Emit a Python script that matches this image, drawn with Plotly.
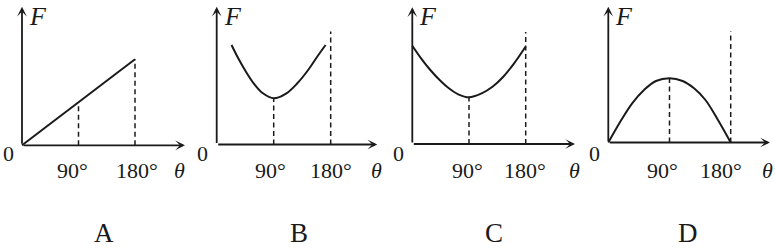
import plotly.graph_objects as go

W, H = 775, 250

# ---------------- data ----------------
panel_names = ["A", "B", "C", "D"]
tick_thetas = [90, 180]
tick_labels = ["90°", "180°"]

# A: straight line through the origin
A_theta = [0, 180]
A_F = [0, 8.6]

# B: U-shaped curve, starts after 0 and ends before 180
B_theta = [23.4, 34.0, 46.2, 58.4, 73.0, 90, 110.1, 127.3, 144.4, 158.7, 171.9]
B_F = [9.95, 8.62, 7.28, 6.12, 5.12, 4.62, 5.12, 6.12, 7.45, 8.78, 9.95]

# C: U-shaped curve from 0 to 180
C_theta = [0, 13.9, 28.6, 43.4, 58.1, 72.9, 90, 110.1, 127.3, 144.4, 161.6, 180]
C_F = [9.83, 8.57, 7.40, 6.40, 5.57, 4.97, 4.67, 5.07, 5.73, 6.73, 8.07, 9.75]

# D: arch from 0 to 180
D_theta = [0, 17.6, 35.1, 52.5, 70.1, 90, 109.3, 126.1, 142.9, 159.8, 180]
D_F = [0, 2.08, 3.92, 5.25, 6.15, 6.42, 6.15, 5.42, 4.25, 2.42, 0]

# heights of the dashed guides at 90 and 180 degrees
A_guide_F = [4.3, 8.6]
B_guide_F = [4.62, 11.3]
C_guide_F = [4.67, 11.2]
D_guide_F = [6.42, 11.1]

# axis extents (arrow tips) in data units
theta_max = [259.6, 253.6, 258.3, 237.8]
F_max = [13.86, 13.78, 13.67, 13.58]

curves_theta = [A_theta, B_theta, C_theta, D_theta]
curves_F = [A_F, B_F, C_F, D_F]
guides_F = [A_guide_F, B_guide_F, C_guide_F, D_guide_F]

# ---------------- layout / style ----------------
origin_px = [(22, 145.3), (216.7, 144.5), (412.3, 144.0), (608.3, 142.5)]
px_per_deg = [0.6278, 0.6333, 0.630, 0.680]
px_per_F = 10.0
pad = 4.0
line_shapes = ["linear", "spline", "spline", "spline"]
tick_xshift = [[-6, 2], [-3, 0], [-2, -1], [-7, -10]]
theta_xshift = [-5, -1, -1, -3]
letter_px = [104, 299, 494, 688]

INK = "#1a1a1a"
FONT = "'Liberation Serif', 'Times New Roman', 'DejaVu Serif', serif"

fig = go.Figure()
annotations = []


def clamp(v):
    return max(0.0, min(1.0, v))


for i in range(4):
    s = "" if i == 0 else str(i + 1)
    xa, ya = "x" + s, "y" + s
    ox, oy = origin_px[i]
    sx = px_per_deg[i]

    # axes
    x_lo, x_hi = -pad / sx, theta_max[i] + pad / sx
    y_lo, y_hi = -pad / px_per_F, F_max[i] + pad / px_per_F
    fig.layout["xaxis" + s] = dict(
        domain=[clamp((ox + x_lo * sx) / W), clamp((ox + x_hi * sx) / W)],
        range=[x_lo, x_hi], visible=False, fixedrange=True, anchor=ya,
    )
    fig.layout["yaxis" + s] = dict(
        domain=[clamp(1 - (oy - y_lo * px_per_F) / H), clamp(1 - (oy - y_hi * px_per_F) / H)],
        range=[y_lo, y_hi], visible=False, fixedrange=True, anchor=xa,
    )

    # dashed guides
    gx, gy = [], []
    for t, f in zip(tick_thetas, guides_F[i]):
        gx += [t, t, None]
        gy += [0, f, None]
    fig.add_trace(go.Scatter(
        x=gx, y=gy, xaxis=xa, yaxis=ya, mode="lines",
        line=dict(color=INK, width=1.5, dash="5px,3.5px"),
        hoverinfo="skip", showlegend=False,
    ))

    # curve
    fig.add_trace(go.Scatter(
        x=curves_theta[i], y=curves_F[i], xaxis=xa, yaxis=ya, mode="lines",
        line=dict(color=INK, width=2, shape=line_shapes[i], smoothing=1.0),
        hoverinfo="skip", showlegend=False,
    ))

    arrow = dict(showarrow=True, text="", arrowhead=3, arrowsize=0.9, arrowwidth=1.8,
                 arrowcolor=INK, standoff=0, xref=xa, yref=ya, axref=xa, ayref=ya)
    # theta axis
    annotations.append(dict(arrow, x=theta_max[i], y=0, ax=0, ay=0))
    # F axis
    annotations.append(dict(arrow, x=0, y=F_max[i], ax=0, ay=0))

    # tick labels
    for k, (t, lab) in enumerate(zip(tick_thetas, tick_labels)):
        annotations.append(dict(
            x=t, y=1 - 170 / H, xref=xa, yref="paper", text=lab, showarrow=False,
            xanchor="center", yanchor="middle", xshift=tick_xshift[i][k],
            font=dict(family=FONT, size=22, color=INK),
        ))
    # theta label
    annotations.append(dict(
        x=theta_max[i], y=1 - 170 / H, xref=xa, yref="paper", text="<i>θ</i>",
        showarrow=False, xanchor="center", yanchor="middle", xshift=theta_xshift[i],
        font=dict(family=FONT, size=22, color=INK),
    ))
    # F label
    annotations.append(dict(
        x=0, y=1 - 16 / H, xref=xa, yref="paper", text="<i>F</i>",
        showarrow=False, xanchor="center", yanchor="middle", xshift=16,
        font=dict(family=FONT, size=26, color=INK),
    ))
    # origin label
    annotations.append(dict(
        x=0, y=1 - 153 / H, xref=xa, yref="paper", text="0",
        showarrow=False, xanchor="center", yanchor="middle", xshift=-14,
        font=dict(family=FONT, size=22, color=INK),
    ))
    # panel letter
    annotations.append(dict(
        x=letter_px[i] / W, y=1 - 233 / H, xref="paper", yref="paper",
        text=panel_names[i], showarrow=False, xanchor="center", yanchor="middle",
        borderpad=0, font=dict(family=FONT, size=27, color=INK),
    ))

fig.update_layout(
    width=W, height=H, margin=dict(l=0, r=0, t=0, b=0),
    paper_bgcolor="white", plot_bgcolor="white",
    font=dict(family=FONT, color=INK),
    annotations=annotations, showlegend=False,
)

fig.write_html("out.html", config={"displayModeBar": False})
